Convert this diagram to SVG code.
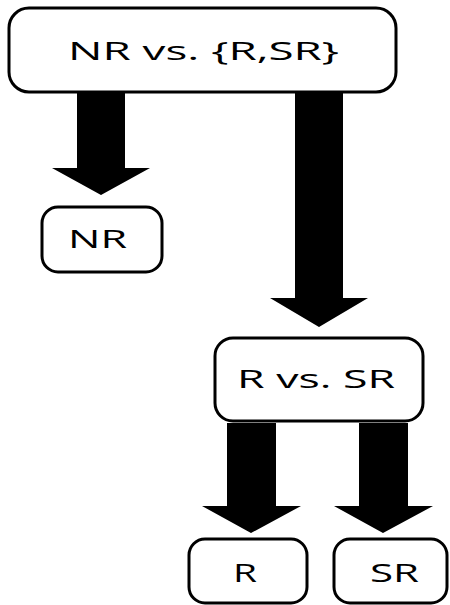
<svg xmlns="http://www.w3.org/2000/svg" width="450" height="605" viewBox="0 0 450 605">
<style>
.box{fill:#fff;stroke:#000;stroke-width:3}
.lbl{font-family:"Open Sans","DejaVu Sans",sans-serif;font-size:25px;fill:#000;text-anchor:middle}
.arr{fill:#000}
</style>
<rect width="450" height="605" fill="#fff"/>
<g id="connectors">
<polygon class="arr" points="77,92 125,92 125,168 150,168 101,195 52,168 77,168"/>
<polygon class="arr" points="295,92 343,92 343,298 368,298 319,327 270,298 295,298"/>
<polygon class="arr" points="227,423 276,423 276,506 301,506 251,533 202,506 227,506"/>
<polygon class="arr" points="359,423 408,423 408,506 433,506 383,533 334,506 359,506"/>
</g>
<g id="n_root">
<rect class="box" x="9" y="8" width="387" height="84" rx="20"/>
<text class="lbl" x="203.5" y="60" textLength="271" lengthAdjust="spacingAndGlyphs">NR vs. {R,SR}</text>
</g>
<g id="n_nr">
<rect class="box" x="42" y="207" width="120" height="65" rx="16"/>
<text class="lbl" x="97.5" y="248" textLength="59" lengthAdjust="spacingAndGlyphs">NR</text>
</g>
<g id="n_rsr">
<rect class="box" x="215" y="338" width="208" height="83" rx="18"/>
<text class="lbl" x="316" y="388" textLength="158" lengthAdjust="spacingAndGlyphs">R vs. SR</text>
</g>
<g id="n_r">
<rect class="box" x="189" y="539" width="118" height="64" rx="16"/>
<text class="lbl" x="245" y="582" textLength="24" lengthAdjust="spacingAndGlyphs">R</text>
</g>
<g id="n_sr">
<rect class="box" x="334" y="539" width="113" height="64" rx="16"/>
<text class="lbl" x="394.5" y="582" textLength="49" lengthAdjust="spacingAndGlyphs">SR</text>
</g>
</svg>
